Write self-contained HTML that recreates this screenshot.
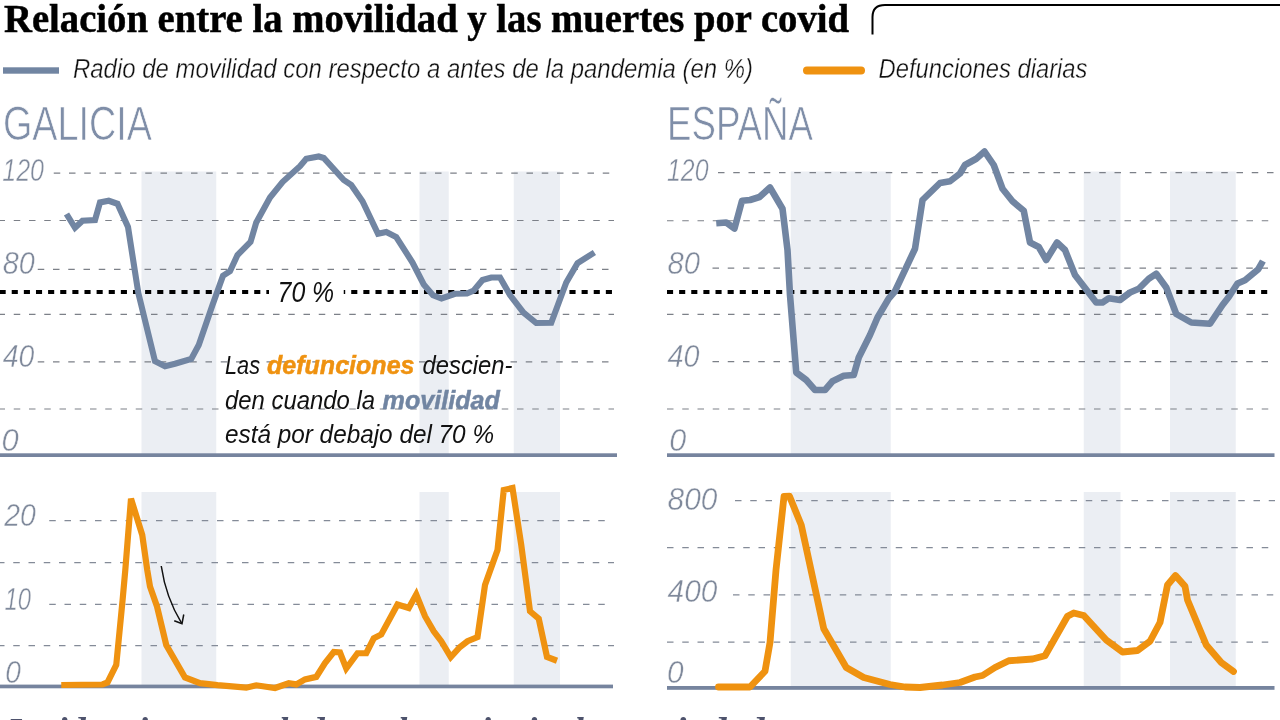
<!DOCTYPE html>
<html lang="es">
<head>
<meta charset="utf-8">
<title>Relación entre la movilidad y las muertes por covid</title>
<style>
html,body{margin:0;padding:0;background:#fff;}
body{width:1280px;height:720px;overflow:hidden;}
svg{display:block;}
</style>
</head>
<body>
<svg width="1280" height="720" viewBox="0 0 1280 720">
<rect width="1280" height="720" fill="#fff"/>
<rect x="141.5" y="171.5" width="74.75" height="284.0" fill="#ebeef3"/>
<rect x="141.5" y="492" width="74.75" height="195.5" fill="#ebeef3"/>
<rect x="419.5" y="171.5" width="29.25" height="284.0" fill="#ebeef3"/>
<rect x="419.5" y="492" width="29.25" height="195.5" fill="#ebeef3"/>
<rect x="513.75" y="171.5" width="46.25" height="284.0" fill="#ebeef3"/>
<rect x="513.75" y="492" width="46.25" height="195.5" fill="#ebeef3"/>
<rect x="790.75" y="171.5" width="100.0" height="284.0" fill="#ebeef3"/>
<rect x="790.75" y="492" width="100.0" height="196.0" fill="#ebeef3"/>
<rect x="1083.75" y="171.5" width="36.75" height="284.0" fill="#ebeef3"/>
<rect x="1083.75" y="492" width="36.75" height="196.0" fill="#ebeef3"/>
<rect x="1170" y="171.5" width="65.75" height="284.0" fill="#ebeef3"/>
<rect x="1170" y="492" width="65.75" height="196.0" fill="#ebeef3"/>
<line x1="53.75" y1="173.1" x2="613" y2="173.1" stroke="#7c8088" stroke-width="1.2" stroke-dasharray="6.5 8.75" stroke-dashoffset="0"/>
<line x1="-1.5" y1="220.5" x2="614" y2="220.5" stroke="#7c8088" stroke-width="1.2" stroke-dasharray="6.5 8.75" stroke-dashoffset="0"/>
<line x1="37.75" y1="269.3" x2="609" y2="269.3" stroke="#7c8088" stroke-width="1.2" stroke-dasharray="6.5 8.75" stroke-dashoffset="0"/>
<line x1="-1.5" y1="314.4" x2="614" y2="314.4" stroke="#7c8088" stroke-width="1.2" stroke-dasharray="6.5 8.75" stroke-dashoffset="0"/>
<line x1="37.75" y1="361.9" x2="609" y2="361.9" stroke="#7c8088" stroke-width="1.2" stroke-dasharray="6.5 8.75" stroke-dashoffset="0"/>
<line x1="-1.5" y1="409" x2="614" y2="409" stroke="#7c8088" stroke-width="1.2" stroke-dasharray="6.5 8.75" stroke-dashoffset="0"/>
<line x1="718" y1="172.6" x2="1275" y2="172.6" stroke="#7c8088" stroke-width="1.2" stroke-dasharray="6.5 8.75" stroke-dashoffset="0"/>
<line x1="667" y1="220.75" x2="1275" y2="220.75" stroke="#7c8088" stroke-width="1.2" stroke-dasharray="6.5 8.75" stroke-dashoffset="0"/>
<line x1="712.5" y1="268.2" x2="1275" y2="268.2" stroke="#7c8088" stroke-width="1.2" stroke-dasharray="6.5 8.75" stroke-dashoffset="0"/>
<line x1="667" y1="314.3" x2="1275" y2="314.3" stroke="#7c8088" stroke-width="1.2" stroke-dasharray="6.5 8.75" stroke-dashoffset="0"/>
<line x1="712.5" y1="361.6" x2="1275" y2="361.6" stroke="#7c8088" stroke-width="1.2" stroke-dasharray="6.5 8.75" stroke-dashoffset="0"/>
<line x1="667" y1="409" x2="1275" y2="409" stroke="#7c8088" stroke-width="1.2" stroke-dasharray="6.5 8.75" stroke-dashoffset="0"/>
<line x1="49.25" y1="520.7" x2="605" y2="520.7" stroke="#848b98" stroke-width="1.25" stroke-dasharray="6.5 8.75" stroke-dashoffset="0"/>
<line x1="-2" y1="562.5" x2="614" y2="562.5" stroke="#848b98" stroke-width="1.25" stroke-dasharray="6.5 8.75" stroke-dashoffset="0"/>
<line x1="49.25" y1="604.25" x2="605" y2="604.25" stroke="#848b98" stroke-width="1.25" stroke-dasharray="6.5 8.75" stroke-dashoffset="0"/>
<line x1="-2" y1="645.6" x2="614" y2="645.6" stroke="#848b98" stroke-width="1.25" stroke-dasharray="6.5 8.75" stroke-dashoffset="0"/>
<line x1="735" y1="500.5" x2="1275" y2="500.5" stroke="#848b98" stroke-width="1.25" stroke-dasharray="6.5 8.75" stroke-dashoffset="0"/>
<line x1="667" y1="547.5" x2="1275" y2="547.5" stroke="#848b98" stroke-width="1.25" stroke-dasharray="6.5 8.75" stroke-dashoffset="0"/>
<line x1="733" y1="594.75" x2="1275" y2="594.75" stroke="#848b98" stroke-width="1.25" stroke-dasharray="6.5 8.75" stroke-dashoffset="0"/>
<line x1="667" y1="642" x2="1275" y2="642" stroke="#848b98" stroke-width="1.25" stroke-dasharray="6.5 8.75" stroke-dashoffset="0"/>
<rect x="0" y="453.3" width="617" height="3.7" fill="#76849e"/>
<rect x="667" y="453.3" width="607.5" height="3.7" fill="#76849e"/>
<rect x="0" y="684.6" width="613" height="3.7" fill="#76849e"/>
<rect x="667" y="686" width="607.5" height="3.8" fill="#76849e"/>
<line x1="-0.4" y1="292" x2="614" y2="292" stroke="#000" stroke-width="4.1" stroke-dasharray="6.1 6.025" stroke-dashoffset="0"/>
<line x1="667" y1="292" x2="1270.5" y2="292" stroke="#000" stroke-width="4.1" stroke-dasharray="6.1 6.025" stroke-dashoffset="0"/>
<rect x="269" y="280" width="74.75" height="24" fill="#fff"/>
<polyline points="66.5,214 75,227.8 82.5,220.7 95,220 100,202.5 108.75,200.75 117.5,203.75 128,227 138.3,293 155,361.25 165,366.25 175,363.75 191.25,359 198.75,345 212.5,305 223,275.75 230,271.25 237.5,255 250.5,242 256.25,222.5 270,197.5 282.5,182 300,166.25 306.25,158.75 318.75,156.5 323.75,158 343.75,180 351.25,185 362.5,201.25 378,233.75 386.25,232 396.25,237 412.5,262.5 423.75,284.5 433,295.25 441.5,298.5 455,293.75 467,293.5 473.75,290.5 482.5,280 491.25,277.5 500,277.5 510,295 523.5,312.5 536.25,323 551.25,322.7 566.25,282.5 577.5,263.1 594.4,252.5" fill="none" stroke="#7185a2" stroke-width="6.1" stroke-linejoin="miter" stroke-linecap="butt" stroke-miterlimit="4"/>
<polyline points="716.25,223.25 726.25,222.5 734.5,228.5 742,200.75 750,200 759.5,197 770,187.5 782.5,208.75 787.5,250 790,295 796.25,372.5 806.25,380 815,390 825,390 832.5,381.25 843.75,375.75 853.75,375 858.75,357.5 870,335 877.5,317.5 888.75,298.5 895,291.25 915,248.75 922.5,200 940,183 950,181.25 960,173.5 965,165 976.25,158.75 984.5,151.5 993.75,165 1002.5,188.75 1012.5,201.25 1023.75,210.75 1030,242.5 1038.75,247 1046.25,260 1057,242.5 1065,250 1075,275 1096.25,302.5 1102.5,302.5 1108.75,298.25 1120,300 1130,292.5 1138.75,288.75 1148.75,278.75 1156.25,273.75 1166.25,287.5 1176.25,314 1191.25,322.5 1210,323.75 1222.5,305 1228.75,297 1237.5,283.5 1245,280.3 1258.3,269.2 1262.9,261" fill="none" stroke="#7185a2" stroke-width="6.6" stroke-linejoin="round" stroke-linecap="butt" stroke-miterlimit="4"/>
<polyline points="61.25,685 102.5,684.5 107.5,682.5 116.25,665 122.5,601 125.3,570 131,498.7 142.25,535 147.25,570 150,586.5 157,606.5 166.25,645 185,677.5 200,683.2 217.5,685.2 246.25,687.7 256.25,685.3 275,688 288.75,683.2 296.25,684.4 305,679.4 316.25,676.9 325,663 333.75,652 340,652.5 346.25,668.5 357.5,653.25 366.25,653.25 373.75,638.25 381.25,634.5 397.5,604.5 408.75,608 416.25,594.5 425,616.25 433.75,631.25 441.25,641.25 450.75,657 460,647 467.5,641.25 477.5,637 485,585 497.5,550 503.75,490 512.5,488 521.25,545 530,611.25 538.75,618.75 547,657 557,660.75" fill="none" stroke="#ef9210" stroke-width="6.2" stroke-linejoin="miter" stroke-linecap="butt" stroke-miterlimit="4"/>
<polyline points="718.5,687 750,687 765,671.25 770,642.5 776,570 784,496.5 789.5,496.2 801.25,525 823.75,628.75 846.25,667.5 863.75,677.5 890,684.5 905,687 920,687.5 942.5,685 960,682.5 975,677 982.5,675.5 995,667.5 1008.75,660.75 1032.5,659 1045,655.75 1067.5,616.25 1073.75,613 1083.75,615.5 1106.25,640 1122.5,652 1137.5,650.5 1150,641.25 1160,622.5 1167.5,585 1175.5,575.5 1185,586.25 1187.5,600 1206.25,645 1221.25,662.5 1233.5,671.5" fill="none" stroke="#ef9210" stroke-width="6.8" stroke-linejoin="round" stroke-linecap="round" stroke-miterlimit="4"/>
<path d="M161.25,566 Q166,598 181.7,623.3" fill="none" stroke="#111" stroke-width="1.5"/>
<path d="M174.25,620.75 L182,623.75 L183.75,614.5" fill="none" stroke="#111" stroke-width="1.5" stroke-linejoin="miter"/>
<text x="2.25" y="181.2" font-family="'Liberation Sans', sans-serif" font-size="32" font-style="italic" font-weight="normal" fill="#7f899b" text-anchor="start" textLength="41.75" lengthAdjust="spacingAndGlyphs" stroke="#fff" stroke-width="0.45">120</text>
<text x="2.8" y="274.4" font-family="'Liberation Sans', sans-serif" font-size="32" font-style="italic" font-weight="normal" fill="#7f899b" text-anchor="start" textLength="32" lengthAdjust="spacingAndGlyphs" stroke="#fff" stroke-width="0.45">80</text>
<text x="2.7" y="367" font-family="'Liberation Sans', sans-serif" font-size="32" font-style="italic" font-weight="normal" fill="#7f899b" text-anchor="start" textLength="31.6" lengthAdjust="spacingAndGlyphs" stroke="#fff" stroke-width="0.45">40</text>
<text x="1.6" y="451.3" font-family="'Liberation Sans', sans-serif" font-size="32" font-style="italic" font-weight="normal" fill="#7f899b" text-anchor="start" textLength="17.2" lengthAdjust="spacingAndGlyphs" stroke="#fff" stroke-width="0.45">0</text>
<text x="667" y="181.2" font-family="'Liberation Sans', sans-serif" font-size="32" font-style="italic" font-weight="normal" fill="#7f899b" text-anchor="start" textLength="41.5" lengthAdjust="spacingAndGlyphs" stroke="#fff" stroke-width="0.45">120</text>
<text x="667.5" y="274.4" font-family="'Liberation Sans', sans-serif" font-size="32" font-style="italic" font-weight="normal" fill="#7f899b" text-anchor="start" textLength="32.5" lengthAdjust="spacingAndGlyphs" stroke="#fff" stroke-width="0.45">80</text>
<text x="667.5" y="367" font-family="'Liberation Sans', sans-serif" font-size="32" font-style="italic" font-weight="normal" fill="#7f899b" text-anchor="start" textLength="32" lengthAdjust="spacingAndGlyphs" stroke="#fff" stroke-width="0.45">40</text>
<text x="669.2" y="451.3" font-family="'Liberation Sans', sans-serif" font-size="32" font-style="italic" font-weight="normal" fill="#7f899b" text-anchor="start" textLength="17" lengthAdjust="spacingAndGlyphs" stroke="#fff" stroke-width="0.45">0</text>
<text x="4.2" y="526.1" font-family="'Liberation Sans', sans-serif" font-size="32" font-style="italic" font-weight="normal" fill="#7f899b" text-anchor="start" textLength="31.6" lengthAdjust="spacingAndGlyphs" stroke="#fff" stroke-width="0.45">20</text>
<text x="4.5" y="610.1" font-family="'Liberation Sans', sans-serif" font-size="32" font-style="italic" font-weight="normal" fill="#7f899b" text-anchor="start" textLength="26.5" lengthAdjust="spacingAndGlyphs" stroke="#fff" stroke-width="0.45">10</text>
<text x="5.3" y="682.8" font-family="'Liberation Sans', sans-serif" font-size="32" font-style="italic" font-weight="normal" fill="#7f899b" text-anchor="start" textLength="15.6" lengthAdjust="spacingAndGlyphs" stroke="#fff" stroke-width="0.45">0</text>
<text x="667.6" y="510" font-family="'Liberation Sans', sans-serif" font-size="32" font-style="italic" font-weight="normal" fill="#7f899b" text-anchor="start" textLength="49.8" lengthAdjust="spacingAndGlyphs" stroke="#fff" stroke-width="0.45">800</text>
<text x="667.6" y="602.3" font-family="'Liberation Sans', sans-serif" font-size="32" font-style="italic" font-weight="normal" fill="#7f899b" text-anchor="start" textLength="49.8" lengthAdjust="spacingAndGlyphs" stroke="#fff" stroke-width="0.45">400</text>
<text x="667" y="683" font-family="'Liberation Sans', sans-serif" font-size="32" font-style="italic" font-weight="normal" fill="#7f899b" text-anchor="start" textLength="16.6" lengthAdjust="spacingAndGlyphs" stroke="#fff" stroke-width="0.45">0</text>
<text x="3" y="140" font-family="'Liberation Sans', sans-serif" font-size="47.5" font-style="normal" font-weight="normal" fill="#7f8ea8" text-anchor="start" textLength="149" lengthAdjust="spacingAndGlyphs" stroke="#fff" stroke-width="0.7">GALICIA</text>
<text x="667" y="140" font-family="'Liberation Sans', sans-serif" font-size="47.5" font-style="normal" font-weight="normal" fill="#7f8ea8" text-anchor="start" textLength="146" lengthAdjust="spacingAndGlyphs" stroke="#fff" stroke-width="0.7">ESPAÑA</text>
<text x="4" y="32.2" font-family="'Liberation Serif', serif" font-size="40" font-style="normal" font-weight="bold" fill="#000" text-anchor="start" textLength="845" lengthAdjust="spacingAndGlyphs" stroke="#000" stroke-width="0.5">Relación entre la movilidad y las muertes por covid</text>
<path d="M872.5,34.5 V17 Q872.5,5 885,5 H1281" fill="none" stroke="#000" stroke-width="2"/>
<rect x="3" y="67.3" width="56" height="6.4" fill="#7185a2"/>
<text x="73" y="78.2" font-family="'Liberation Sans', sans-serif" font-size="27" font-style="italic" font-weight="normal" fill="#111" text-anchor="start" textLength="680" lengthAdjust="spacingAndGlyphs" stroke="#fff" stroke-width="0.35">Radio de movilidad con respecto a antes de la pandemia (en %)</text>
<rect x="803" y="66.6" width="62" height="7.8" rx="3.9" fill="#ef9210"/>
<text x="878.5" y="78.2" font-family="'Liberation Sans', sans-serif" font-size="27" font-style="italic" font-weight="normal" fill="#111" text-anchor="start" textLength="209" lengthAdjust="spacingAndGlyphs" stroke="#fff" stroke-width="0.35">Defunciones diarias</text>
<text x="277.6" y="301.9" font-family="'Liberation Sans', sans-serif" font-size="29" font-style="italic" font-weight="normal" fill="#111" text-anchor="start" textLength="56.6" lengthAdjust="spacingAndGlyphs" >70 %</text>
<text x="225" y="373.6" font-family="'Liberation Sans', sans-serif" font-size="26" font-style="italic" font-weight="normal" fill="#111" text-anchor="start" textLength="35" lengthAdjust="spacingAndGlyphs" >Las</text>
<text x="267" y="373.6" font-family="'Liberation Sans', sans-serif" font-size="26" font-style="italic" font-weight="bold" fill="#ef9210" text-anchor="start" textLength="147.5" lengthAdjust="spacingAndGlyphs" stroke="#ef9210" stroke-width="0.5">defunciones</text>
<text x="422.5" y="373.6" font-family="'Liberation Sans', sans-serif" font-size="26" font-style="italic" font-weight="normal" fill="#111" text-anchor="start" textLength="90" lengthAdjust="spacingAndGlyphs" >descien-</text>
<text x="225" y="409.2" font-family="'Liberation Sans', sans-serif" font-size="26" font-style="italic" font-weight="normal" fill="#111" text-anchor="start" textLength="150" lengthAdjust="spacingAndGlyphs" >den cuando la</text>
<text x="382.5" y="409.2" font-family="'Liberation Sans', sans-serif" font-size="26" font-style="italic" font-weight="bold" fill="#7185a2" text-anchor="start" textLength="117.5" lengthAdjust="spacingAndGlyphs" stroke="#7185a2" stroke-width="0.5">movilidad</text>
<text x="225" y="443" font-family="'Liberation Sans', sans-serif" font-size="26" font-style="italic" font-weight="normal" fill="#111" text-anchor="start" textLength="269" lengthAdjust="spacingAndGlyphs" >está por debajo del 70 %</text>
<text x="7" y="744" font-family="'Liberation Serif', serif" font-size="38" font-style="italic" font-weight="bold" fill="#4d526c" text-anchor="start" textLength="607" lengthAdjust="spacingAndGlyphs" id="bt1">Incidencia acumulada en las principales</text>
<text x="659" y="744" font-family="'Liberation Serif', serif" font-size="38" font-style="italic" font-weight="bold" fill="#4d526c" text-anchor="start" id="bt2">ciudades</text>
</svg>
</body>
</html>
